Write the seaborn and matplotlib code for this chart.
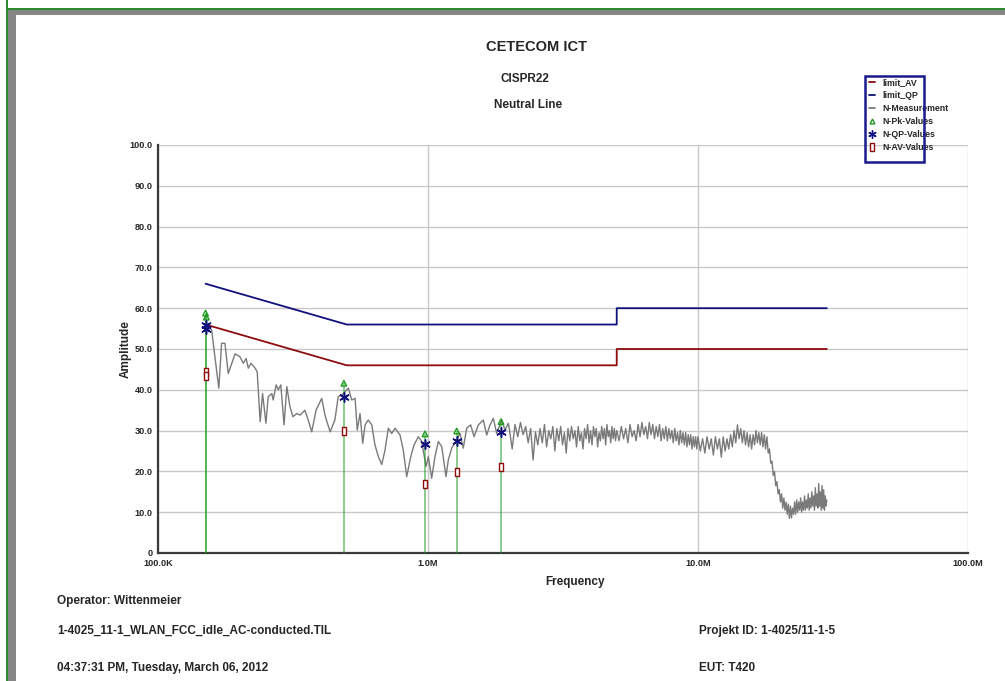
import numpy as np
import pandas as pd
import matplotlib
matplotlib.use("Agg")
import matplotlib.pyplot as plt
from matplotlib.lines import Line2D
from matplotlib.patches import Rectangle
from matplotlib.ticker import FixedLocator, LogLocator, MultipleLocator, FuncFormatter
import seaborn as sns

# ---------------------------------------------------------------- data
# Scan trace below 2 MHz (frequency in MHz, level in dBuV)
LOW_FREQ = [0.150, 0.158, 0.163, 0.168, 0.172, 0.177, 0.182, 0.193, 0.201, 0.207,
            0.212, 0.216, 0.221, 0.229, 0.233, 0.239, 0.244, 0.251, 0.256, 0.264,
            0.267, 0.274, 0.279, 0.285, 0.293, 0.300, 0.308, 0.316, 0.327, 0.336,
            0.350, 0.360, 0.371, 0.385, 0.404, 0.416, 0.434, 0.452, 0.465, 0.486,
            0.507, 0.522, 0.537, 0.547, 0.560, 0.573, 0.585, 0.601, 0.619, 0.636,
            0.655, 0.674, 0.693, 0.713, 0.734, 0.755, 0.788, 0.810, 0.834, 0.863,
            0.888, 0.921, 0.948, 0.983, 1.003, 1.032, 1.061, 1.092, 1.124, 1.166,
            1.189, 1.224, 1.277, 1.314, 1.351, 1.391, 1.439, 1.481, 1.536, 1.603,
            1.650, 1.697, 1.746, 1.797, 1.875, 1.929, 1.984]
LOW_LEVEL = [55.5, 54.7, 47.3, 40.4, 51.4, 51.4, 44.0, 48.8, 48.1, 46.5,
             47.7, 45.3, 46.5, 45.3, 44.4, 32.2, 39.1, 31.8, 38.3, 39.1,
             37.5, 41.2, 40.0, 41.2, 31.4, 40.8, 35.9, 33.4, 34.2, 33.8,
             35.0, 32.6, 29.7, 35.0, 37.9, 33.6, 29.7, 32.6, 38.3, 39.1,
             40.4, 37.5, 37.9, 30.1, 34.2, 26.9, 31.4, 32.6, 31.4, 26.5,
             23.6, 21.7, 25.2, 30.6, 29.3, 30.6, 28.9, 25.2, 18.7, 23.6,
             26.5, 28.5, 27.3, 21.2, 23.6, 18.3, 23.6, 27.3, 26.1, 18.7,
             22.8, 25.7, 27.7, 29.3, 25.7, 30.6, 31.4, 28.5, 31.4, 32.6,
             28.9, 31.4, 33.0, 29.3, 32.6, 30.1, 31.8]

# Swept bands: 2.00-4.95 MHz (50 kHz steps), 5.0-9.9 MHz (100 kHz), 10-30 MHz (200 kHz)
BAND_A_FREQ = np.round(np.arange(2.00, 4.96, 0.05), 2)
BAND_A_LEVEL = [30.5, 25.5, 31.5, 28.5, 32.0, 29.0, 31.0, 27.0, 30.5, 22.8,
                29.7, 26.5, 30.5, 27.0, 31.5, 26.0, 30.0, 28.0, 31.0, 25.0,
                30.5, 27.5, 31.0, 26.5, 29.5, 24.5, 30.5, 27.5, 31.0, 28.0,
                30.0, 26.0, 31.0, 27.5, 29.5, 25.5, 30.5, 28.0, 31.5, 27.0,
                30.0, 26.5, 31.0, 28.5, 30.5, 26.0, 29.5, 27.5, 31.0, 28.0,
                30.5, 26.5, 31.5, 28.5, 30.0, 27.0, 31.0, 28.0, 30.5, 27.5]
BAND_B_FREQ = np.round(np.arange(5.0, 9.95, 0.1), 1)
BAND_B_LEVEL = [30.0, 27.5, 31.0, 28.0, 30.5, 27.0, 31.5, 28.5, 30.0, 27.5,
                31.5, 28.5, 32.0, 29.0, 31.0, 28.0, 32.0, 29.0, 31.5, 28.0,
                31.0, 28.5, 31.5, 27.5, 30.5, 28.0, 31.0, 27.5, 30.5, 28.0,
                30.0, 27.0, 30.5, 27.5, 29.5, 26.5, 30.0, 27.0, 29.5, 26.5,
                29.5, 26.0, 29.0, 26.5, 29.0, 25.5, 28.5, 26.0, 28.5, 25.5]
BAND_C_FREQ = np.round(np.arange(10.0, 30.1, 0.2), 1)
BAND_C_LEVEL = [28.5, 25.0, 28.0, 24.5, 28.5, 25.5, 28.0, 24.0, 28.5, 25.5,
                28.0, 23.5, 28.5, 25.0, 28.0, 25.5, 29.0, 26.0, 30.0, 27.0,
                31.4, 28.0, 30.5, 27.0, 30.0, 26.5, 29.5, 26.0, 29.0, 25.5,
                29.0, 26.5, 30.0, 27.0, 29.5, 26.5, 29.5, 26.0, 29.0, 25.5,
                28.5, 24.5, 25.5, 22.0, 22.5, 19.0, 20.0, 16.5, 17.5, 14.5,
                15.5, 12.5, 14.5, 11.0, 13.5, 10.5, 12.5, 9.5, 12.0, 8.5,
                11.5, 8.6, 11.0, 9.5, 12.5, 9.5, 13.0, 10.0, 12.5, 10.5,
                13.5, 10.0, 12.5, 10.5, 14.0, 10.5, 13.0, 11.0, 14.5, 10.5,
                13.5, 11.0, 15.0, 11.5, 14.0, 10.5, 16.0, 11.5, 14.5, 11.0,
                17.0, 11.5, 15.0, 10.5, 16.5, 11.0, 15.5, 10.5, 14.0, 11.5,
                13.0]

# CISPR 22 class B limits
LIMIT_FREQ = [0.15, 0.5, 5.0, 5.0, 30.0]
LIMIT_QP = [66.0, 56.0, 56.0, 60.0, 60.0]
LIMIT_AV = [56.0, 46.0, 46.0, 50.0, 50.0]

# Final measurement results
FINAL_FREQ = [0.150, 0.151, 0.488, 0.975, 1.277, 1.864]
FINAL_PK = [58.8, 57.8, 41.6, 29.2, 29.9, 32.2]
FINAL_QP = [55.9, 54.9, 38.3, 26.7, 27.5, 29.7]
FINAL_AV = [44.4, 43.4, 29.8, 16.9, 19.9, 21.2]

X_TICKS = [0.1, 1.0, 10.0, 100.0]
X_TICK_LABELS = ["100.0K", "1.0M", "10.0M", "100.0M"]
LEGEND_LABELS = ["limit_AV", "limit_QP", "N-Measurement", "N-Pk-Values", "N-QP-Values", "N-AV-Values"]

# ---------------------------------------------------------------- style
sns.set_style("white")
plt.rcParams["font.family"] = ["Liberation Sans", "DejaVu Sans"]
plt.rcParams["font.weight"] = "bold"

C_QP = "#10107F"
C_AV = "#8E0C0C"
C_TRACE = "#7A7A7A"
C_PK = "#1E9A1E"
C_FRAME_GREEN = "#2E8B2E"
C_FRAME_GRAY = "#868686"

W, H = 1005, 681
fig = plt.figure(figsize=(W / 100, H / 100), dpi=100)


def fx(px):
    return px / W


def fy(py):
    return 1 - py / H


# page frame
fig.add_artist(Rectangle((fx(6), 0), fx(2), 1, transform=fig.transFigure,
                         color=C_FRAME_GREEN, lw=0, zorder=5))
fig.add_artist(Rectangle((fx(6), fy(9.6)), 1, fy(7.5) - fy(9.6), transform=fig.transFigure,
                         color=C_FRAME_GREEN, lw=0, zorder=5))
fig.add_artist(Rectangle((fx(8), 0), fx(8), fy(9.6), transform=fig.transFigure,
                         color=C_FRAME_GRAY, lw=0, zorder=4))
fig.add_artist(Rectangle((fx(8), fy(14.7)), 1, fy(9.6) - fy(14.7), transform=fig.transFigure,
                         color=C_FRAME_GRAY, lw=0, zorder=4))

ax = fig.add_axes([fx(158), fy(553), fx(968) - fx(158), fy(145) - fy(553)])
ax.set_xscale("log")

trace = pd.DataFrame({
    "freq": np.concatenate([LOW_FREQ, BAND_A_FREQ, BAND_B_FREQ, BAND_C_FREQ]),
    "level": np.concatenate([LOW_LEVEL, BAND_A_LEVEL, BAND_B_LEVEL, BAND_C_LEVEL]),
})
limits = pd.DataFrame({"freq": LIMIT_FREQ, "qp": LIMIT_QP, "av": LIMIT_AV})
finals = pd.DataFrame({"freq": FINAL_FREQ, "pk": FINAL_PK, "qp": FINAL_QP, "av": FINAL_AV})

sns.lineplot(data=trace, x="freq", y="level", estimator=None, sort=False,
             color=C_TRACE, lw=1.0, ax=ax, legend=False, zorder=2)
sns.lineplot(data=limits, x="freq", y="qp", estimator=None, sort=False,
             color=C_QP, lw=1.3, ax=ax, legend=False, zorder=3)
sns.lineplot(data=limits, x="freq", y="av", estimator=None, sort=False,
             color=C_AV, lw=1.3, ax=ax, legend=False, zorder=3)

# stems of the final measurements
ax.vlines(finals["freq"], 0, finals["pk"], colors=C_PK, lw=1.3, alpha=0.55, zorder=3)

rect_marker = [(-0.55, -1), (0.55, -1), (0.55, 1), (-0.55, 1), (-0.55, -1)]
sns.scatterplot(data=finals, x="freq", y="pk", marker="^", s=16, facecolor="none",
                edgecolor=C_PK, linewidth=1.0, ax=ax, legend=False, zorder=5)
sns.scatterplot(data=finals, x="freq", y="qp", marker=(6, 2, 0), s=45, color=C_QP,
                edgecolor=C_QP, linewidth=1.1, ax=ax, legend=False, zorder=5)
sns.scatterplot(data=finals, x="freq", y="av", marker=rect_marker, s=36, facecolor="white",
                edgecolor=C_AV, linewidth=1.0, ax=ax, legend=False, zorder=5)

# axes, ticks, grid
ax.set_xlim(0.1, 100)
ax.set_ylim(0, 100)
ax.xaxis.set_major_locator(FixedLocator(X_TICKS))
ax.xaxis.set_major_formatter(FuncFormatter(lambda v, _: X_TICK_LABELS[X_TICKS.index(v)]
                                           if v in X_TICKS else ""))
ax.xaxis.set_minor_locator(LogLocator(base=10, subs=np.arange(2, 10)))
ax.xaxis.set_minor_formatter(FuncFormatter(lambda v, _: ""))
ax.yaxis.set_major_locator(MultipleLocator(10))
ax.yaxis.set_minor_locator(MultipleLocator(2))
ax.yaxis.set_major_formatter(FuncFormatter(lambda v, _: "0" if v == 0 else f"{v:.1f}"))

ax.set_axisbelow(True)
ax.grid(which="major", color="#C8C8C8", lw=1.0)
ax.grid(which="minor", visible=False)
for side in ("top", "right"):
    ax.spines[side].set_visible(False)
for side in ("left", "bottom"):
    ax.spines[side].set_color("#3A3A3A")
    ax.spines[side].set_linewidth(1.6)

ax.tick_params(axis="y", which="major", direction="out", length=3, width=1.2,
               color="#3A3A3A", pad=1, labelsize=6.6)
ax.tick_params(axis="y", which="minor", direction="inout", length=4.5, width=1.0,
               color="#3A3A3A")
ax.tick_params(axis="x", which="major", direction="inout", length=7, width=1.2,
               color="#3A3A3A", pad=1, labelsize=6.6)
ax.tick_params(axis="x", which="minor", direction="inout", length=4.5, width=1.0,
               color="#3A3A3A")
for lab in ax.get_xticklabels() + ax.get_yticklabels():
    lab.set_fontweight("bold")

ax.set_xlabel("Frequency", fontsize=8.5, fontweight="bold")
ax.set_ylabel("Amplitude", fontsize=8.5, fontweight="bold")
ax.xaxis.set_label_coords((575 - 158) / 810, (553 - 576) / 408)
ax.yaxis.set_label_coords((132 - 158) / 810, 0.5)

# titles
fig.text(fx(536), fy(47), "CETECOM ICT", ha="center", va="center", fontsize=10.5, fontweight="bold")
fig.text(fx(525), fy(79), "CISPR22", ha="center", va="center", fontsize=8.5, fontweight="bold")
fig.text(fx(528), fy(105), "Neutral Line", ha="center", va="center", fontsize=8.5, fontweight="bold")

# legend
handles = [
    Line2D([], [], color=C_AV, lw=1.3),
    Line2D([], [], color=C_QP, lw=1.3),
    Line2D([], [], color=C_TRACE, lw=1.3),
    Line2D([], [], ls="none", marker="^", ms=3.5, mfc="none", mec=C_PK, mew=1.0),
    Line2D([], [], ls="none", marker=(6, 2, 0), ms=6, color=C_QP, mew=1.0),
    Line2D([], [], ls="none", marker=rect_marker, ms=6, mfc="white", mec=C_AV, mew=1.0),
]
leg = fig.legend(handles, LEGEND_LABELS, loc="upper left",
                 bbox_to_anchor=(fx(869), fy(78)), bbox_transform=fig.transFigure,
                 frameon=False, fontsize=6.3, handlelength=0.7, handletextpad=0.8,
                 labelspacing=0.45, borderpad=0, borderaxespad=0)
for t in leg.get_texts():
    t.set_fontweight("bold")
fig.add_artist(Rectangle((fx(865), fy(162)), fx(924) - fx(865), fy(76) - fy(162),
                         transform=fig.transFigure, fill=False, ec="#1A1A8E", lw=1.8, zorder=6))

# footer
foot = dict(fontsize=8.5, fontweight="bold", ha="left", va="center")
fig.text(fx(57), fy(601), "Operator: Wittenmeier", **foot)
fig.text(fx(57), fy(631), "1-4025_11-1_WLAN_FCC_idle_AC-conducted.TIL", **foot)
fig.text(fx(57), fy(668), "04:37:31 PM, Tuesday, March 06, 2012", **foot)
fig.text(fx(699), fy(631), "Projekt ID: 1-4025/11-1-5", **foot)
fig.text(fx(699), fy(668), "EUT: T420", **foot)

fig.savefig("out.png", dpi=100)
